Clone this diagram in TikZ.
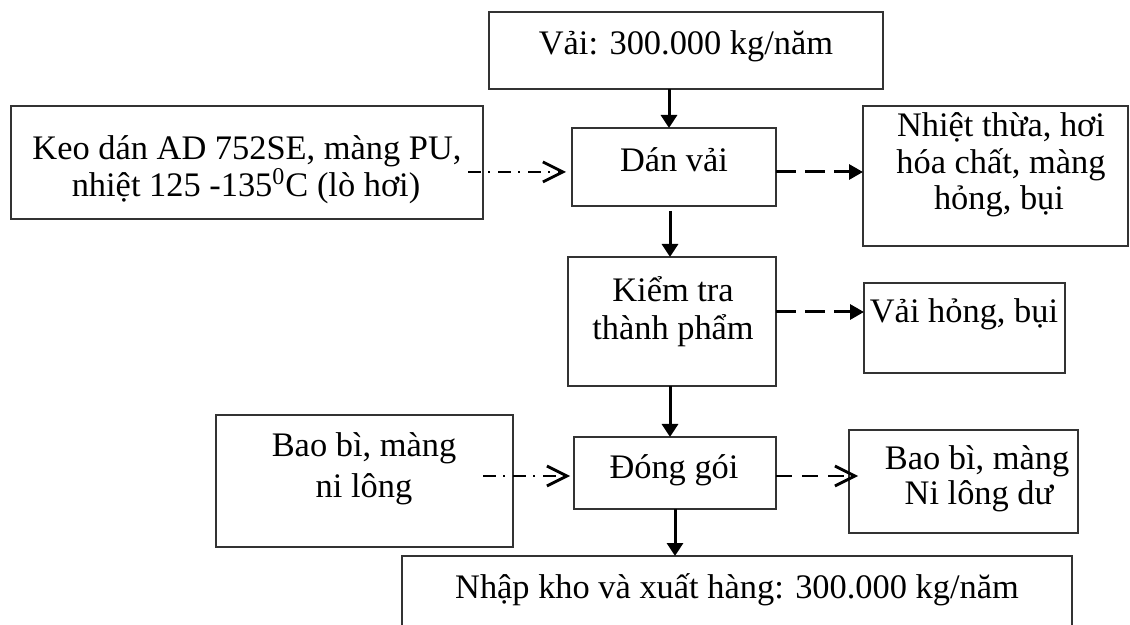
\documentclass[tikz,border=0pt]{standalone}
\usepackage{fontspec}
\setmainfont{Liberation Serif}
\usetikzlibrary{arrows.meta,fit}
\begin{document}
\begin{tikzpicture}[x=0.5pt,y=-0.5pt,
  box/.style={draw=black!80, line width=0.6pt, inner sep=0pt, outer sep=0pt},
  lbl/.style={anchor=base, inner sep=0pt, font=\fontsize{17.2}{20}\selectfont},
  flow/.style={line width=1.5pt, -{Triangle[length=6.5pt,width=8pt]}},
  loss/.style={line width=1.5pt, dash pattern=on 10pt off 4.5pt, -{Triangle[length=7pt,width=7.5pt]}},
  lossopen/.style={line width=1.4pt, dash pattern=on 8pt off 5pt, -{Straight Barb[length=10pt,width=10pt]}},
  feed/.style={line width=1.4pt, dash pattern=on 6.5pt off 3.5pt on 1pt off 4pt, -{Straight Barb[length=10pt,width=10pt]}},
]
\useasboundingbox (0,0) rectangle (1130,625);
\clip (0,0) rectangle (1130,625);

% process boxes
\node[box, fit={(489,12) (883,89)}] (top) {};
\node[box, fit={(572,128) (776,206)}] (dan) {};
\node[box, fit={(568,257) (776,386)}] (kiem) {};
\node[box, fit={(574,437) (776,509)}] (dong) {};
\node[box, fit={(402,556) (1072,660)}] (nhap) {};
% inputs
\node[box, fit={(11,106) (483,219)}] (keo) {};
\node[box, fit={(216,415) (513,547)}] (baobiL) {};
% outputs
\node[box, fit={(863,106) (1128,246)}] (nhiet) {};
\node[box, fit={(864,283) (1065,373)}] (vaihong) {};
\node[box, fit={(849,430) (1078,533)}] (baobiR) {};

% texts
\node[lbl] (t-top) at (686,55) {Vải: 300.000 kg/năm};
\node[lbl] (t-dan) at (674,172) {Dán vải};
\node[lbl] (t-kiem1) at (673,302) {Kiểm tra};
\node[lbl] (t-kiem2) at (673,340) {thành phẩm};
\node[lbl] (t-dong) at (674,479) {Đóng gói};
\node[lbl] (t-nhap) at (737,598) {Nhập kho và xuất hàng: 300.000 kg/năm};
\node[lbl] (t-keo1) at (247,160) {Keo dán AD 752SE, màng PU,};
\node[lbl] (t-keo2) at (246,197) {nhiệt 125 -135\textsuperscript{0}C (lò hơi)};
\node[lbl] (t-bbL1) at (364,457) {Bao bì, màng};
\node[lbl] (t-bbL2) at (364,498) {ni lông};
\node[lbl] (t-nh1) at (1001,137) {Nhiệt thừa, hơi};
\node[lbl] (t-nh2) at (1001,174) {hóa chất, màng};
\node[lbl] (t-nh3) at (999,210) {hỏng, bụi};
\node[lbl] (t-vh) at (964,323) {Vải hỏng, bụi};
\node[lbl] (t-bbR1) at (977,470) {Bao bì, màng};
\node[lbl] (t-bbR2) at (979,505) {Ni lông dư};

% main flow
\draw[flow] ([xshift=-8.5pt]top.south) -- ([xshift=-2.5pt]dan.north);
\draw[flow] ([xshift=-2pt,yshift=-2.5pt]dan.south) -- ([xshift=-1pt]kiem.north);
\draw[flow] ([xshift=-1pt]kiem.south) -- ([xshift=-2.5pt]dong.north);
\draw[flow] (dong.south) -- ([xshift=-31pt]nhap.north);

% inputs
\draw[feed, shorten >=3pt] ([xshift=-7.5pt,yshift=-4.75pt]keo.east) -- ([yshift=-2.5pt]dan.west);
\draw[feed, shorten >=2pt] ([xshift=-15pt,yshift=2.5pt]baobiL.east) -- ([yshift=-1.5pt]dong.west);

% outputs
\draw[loss] ([yshift=-2.5pt]dan.east) -- ([yshift=2pt]nhiet.west);
\draw[loss] ([yshift=4.75pt]kiem.east) -- ([yshift=8pt]vaihong.west);
\draw[lossopen] ([yshift=-1.5pt]dong.east) -- ([xshift=4.5pt,yshift=2.75pt]baobiR.west);
\end{tikzpicture}
\end{document}
